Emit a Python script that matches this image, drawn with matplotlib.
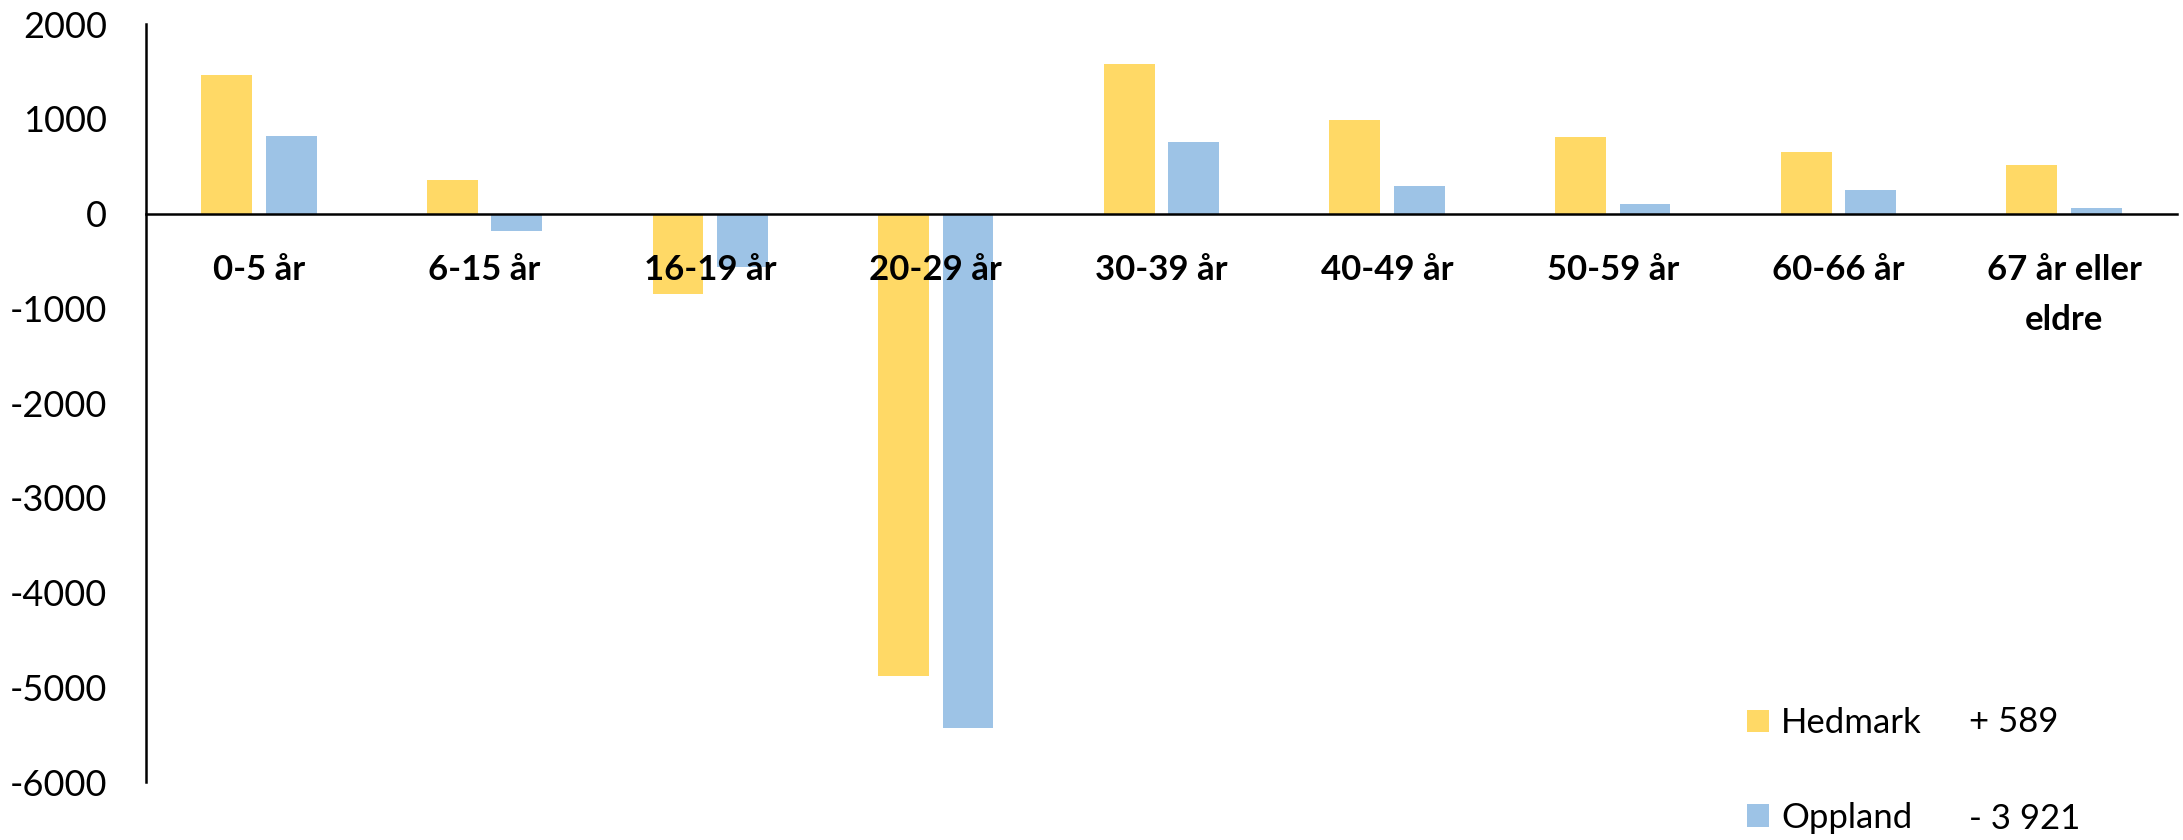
import matplotlib
matplotlib.use("Agg")
import matplotlib.pyplot as plt
import numpy as np

# age groups and net change per county
categories = ["0-5 år", "6-15 år", "16-19 år", "20-29 år", "30-39 år",
              "40-49 år", "50-59 år", "60-66 år", "67 år eller\neldre"]
hedmark = [1460, 357, -850, -4880, 1575, 987, 807, 649, 512]
oppland = [818, -185, -561, -5433, 755, 290, 100, 248, 58]
series_names = ["Hedmark", "Oppland"]
totals = ["+ 589", "- 3 921"]
yticks = [2000, 1000, 0, -1000, -2000, -3000, -4000, -5000, -6000]

plt.rcParams['font.family'] = ['Lato', 'DejaVu Sans']

fig = plt.figure(figsize=(21.83, 8.4), dpi=100)
ax = fig.add_axes([0.0669, 0.069, 0.9303, 0.9024])

x = np.arange(len(categories))
w = 0.225
b1 = ax.bar(x - 0.143, hedmark, w, color='#FFD966', label=series_names[0])
b2 = ax.bar(x + 0.143, oppland, w, color='#9DC3E6', label=series_names[1])

# x axis sits on zero (set before tick labels, it resets them)
for s in ['top', 'right']:
    ax.spines[s].set_visible(False)
ax.spines['bottom'].set_position(('data', 0))
ax.spines['bottom'].set_linewidth(1.8)
ax.spines['left'].set_linewidth(1.8)

ax.set_xlim(-0.5, len(categories) - 0.5)
ax.set_ylim(-6000, 2000)
ax.set_yticks(yticks)
ax.set_yticklabels([str(v) for v in yticks], fontsize=26)
ax.tick_params(axis='y', length=0, pad=28)

ax.set_xticks(x)
ax.set_xticklabels(categories, fontsize=25, fontweight='bold', linespacing=1.7)
ax.tick_params(axis='x', length=0, pad=29)

fig.legend(handles=[b1, b2], loc='center left',
           bbox_to_anchor=(1747 / 2183, 1 - 770.5 / 840),
           frameon=False, fontsize=25, borderpad=0, borderaxespad=0,
           handlelength=0.63, handleheight=0.63, handletextpad=0.35,
           labelspacing=1.8)
fig.text(1969 / 2183, 1 - 722 / 840, totals[0], fontsize=25, va='center')
fig.text(1969 / 2183, 1 - 819 / 840, totals[1], fontsize=25, va='center')

fig.savefig("out.png", dpi=100)
